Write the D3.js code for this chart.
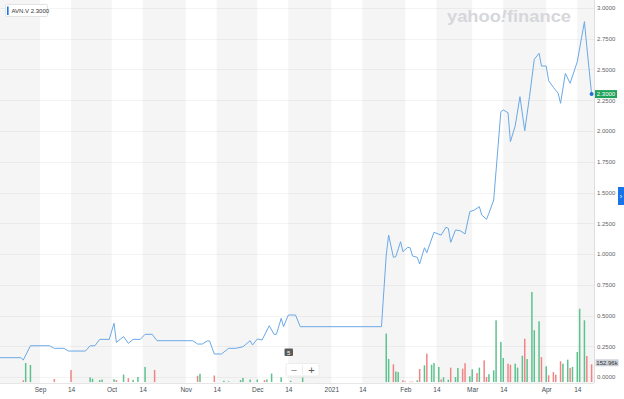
<!DOCTYPE html>
<html><head><meta charset="utf-8">
<script src="https://cdn.jsdelivr.net/npm/d3@7"></script>
<style>
html,body{margin:0;padding:0;background:#fff;}
svg{display:block;font-family:"Liberation Sans",Arial,Helvetica,sans-serif;}
</style></head><body>
<svg id="chart" width="624" height="399"></svg>
<script>
// ---------- DATA ----------
const symbol = "AVN.V";
const lastPrice = 2.30;
const lastVolume = 152.96;          // thousands
const zoomBadge = "5";

const priceSeries = [
 ["2020-08-15",0.157],["2020-08-24",0.157],["2020-08-25",0.138],["2020-08-28",0.254],
 ["2020-09-05",0.254],["2020-09-07",0.233],["2020-09-11",0.233],["2020-09-13",0.211],
 ["2020-09-20",0.211],["2020-09-22",0.254],["2020-09-24",0.254],["2020-09-26",0.306],
 ["2020-09-30",0.306],["2020-10-02",0.437],["2020-10-03",0.282],["2020-10-06",0.328],
 ["2020-10-08",0.274],["2020-10-10",0.306],["2020-10-13",0.306],["2020-10-15",0.347],
 ["2020-10-18",0.347],["2020-10-20",0.295],["2020-11-04",0.295],["2020-11-06",0.268],
 ["2020-11-08",0.268],["2020-11-10",0.293],["2020-11-11",0.293],["2020-11-13",0.187],
 ["2020-11-16",0.187],["2020-11-19",0.233],["2020-11-22",0.233],["2020-11-25",0.246],
 ["2020-11-28",0.295],["2020-11-29",0.260],["2020-12-01",0.309],["2020-12-03",0.301],
 ["2020-12-06",0.417],["2020-12-08",0.347],["2020-12-09",0.347],["2020-12-11",0.477],
 ["2020-12-12",0.409],["2020-12-14",0.504],["2020-12-17",0.504],["2020-12-19",0.409],
 ["2021-01-22",0.409],["2021-01-24",0.992],["2021-01-25",1.154],["2021-01-27",0.973],
 ["2021-01-28",0.978],["2021-01-30",1.100],["2021-01-31",1.019],["2021-02-02",1.054],
 ["2021-02-03",1.051],["2021-02-04",0.984],["2021-02-06",0.973],["2021-02-07",0.919],
 ["2021-02-09",1.051],["2021-02-10",1.011],["2021-02-13",1.176],["2021-02-16",1.154],
 ["2021-02-18",1.217],["2021-02-19",1.209],["2021-02-20",1.095],["2021-02-22",1.195],
 ["2021-02-24",1.189],["2021-02-26",1.163],["2021-02-28",1.344],["2021-03-02",1.358],
 ["2021-03-04",1.385],["2021-03-05",1.317],["2021-03-07",1.282],["2021-03-08",1.331],
 ["2021-03-10",1.439],["2021-03-13",2.157],["2021-03-14",2.171],["2021-03-16",2.149],
 ["2021-03-17",1.913],["2021-03-19",2.041],["2021-03-21",2.279],["2021-03-23",2.002],
 ["2021-03-25",2.279],["2021-03-27",2.583],["2021-03-29",2.632],["2021-03-30",2.528],
 ["2021-04-01",2.528],["2021-04-02",2.409],["2021-04-04",2.355],["2021-04-06",2.307],
 ["2021-04-07",2.225],["2021-04-09",2.469],["2021-04-11",2.388],["2021-04-14",2.563],
 ["2021-04-17",2.889],["2021-04-18",2.685],["2021-04-20",2.300]
];

// [date, volume (thousands), "u" up / "d" down]
const volumeSeries = [
 ["2020-08-25",15,"d"],["2020-08-26",164,"u"],["2020-08-28",147,"u"],["2020-09-07",26,"d"],
 ["2020-09-14",104,"d"],["2020-09-22",40,"u"],["2020-09-23",28,"u"],["2020-09-26",17,"u"],
 ["2020-09-27",22,"u"],["2020-10-02",24,"u"],["2020-10-03",17,"d"],["2020-10-06",64,"u"],
 ["2020-10-08",33,"d"],["2020-10-10",19,"u"],["2020-10-12",43,"u"],["2020-10-15",130,"u"],
 ["2020-10-19",104,"d"],["2020-11-06",54,"d"],["2020-11-07",71,"u"],["2020-11-13",56,"d"],
 ["2020-11-17",11,"u"],["2020-11-19",6,"u"],["2020-11-24",17,"u"],["2020-11-25",35,"u"],
 ["2020-11-28",22,"u"],["2020-12-01",22,"u"],["2020-12-04",16,"d"],["2020-12-05",22,"u"],
 ["2020-12-07",73,"u"],["2020-12-11",41,"u"],["2020-12-15",11,"u"],["2020-12-20",39,"u"],
 ["2021-01-24",419,"u"],["2021-01-25",199,"u"],["2021-01-27",153,"d"],["2021-01-28",91,"u"],
 ["2021-01-29",86,"u"],["2021-01-31",15,"d"],["2021-02-01",6,"d"],["2021-02-03",4,"d"],
 ["2021-02-04",4,"d"],["2021-02-06",15,"u"],["2021-02-07",112,"d"],["2021-02-09",144,"u"],
 ["2021-02-10",245,"d"],["2021-02-12",149,"u"],["2021-02-13",164,"u"],["2021-02-15",130,"u"],
 ["2021-02-16",23,"d"],["2021-02-17",41,"u"],["2021-02-19",20,"u"],["2021-02-20",124,"d"],
 ["2021-02-22",43,"u"],["2021-02-23",121,"u"],["2021-02-25",115,"d"],["2021-02-26",162,"d"],
 ["2021-02-28",49,"u"],["2021-03-01",110,"u"],["2021-03-03",78,"d"],["2021-03-04",124,"u"],
 ["2021-03-06",187,"d"],["2021-03-07",43,"d"],["2021-03-08",67,"u"],["2021-03-10",101,"u"],
 ["2021-03-11",533,"u"],["2021-03-13",346,"u"],["2021-03-14",207,"u"],["2021-03-16",158,"d"],
 ["2021-03-17",149,"d"],["2021-03-19",158,"u"],["2021-03-20",124,"u"],["2021-03-22",227,"u"],
 ["2021-03-23",374,"d"],["2021-03-24",199,"u"],["2021-03-26",778,"u"],["2021-03-27",447,"u"],
 ["2021-03-29",524,"u"],["2021-03-30",216,"d"],["2021-04-01",136,"u"],["2021-04-02",58,"d"],
 ["2021-04-04",86,"d"],["2021-04-05",63,"d"],["2021-04-07",179,"d"],["2021-04-08",158,"u"],
 ["2021-04-10",193,"u"],["2021-04-11",121,"d"],["2021-04-12",130,"u"],["2021-04-14",259,"u"],
 ["2021-04-15",633,"u"],["2021-04-17",533,"u"],["2021-04-18",225,"d"],["2021-04-20",152.96,"d"]
];

const tickDates = ["2020-09-01","2020-09-14","2020-10-01","2020-10-14","2020-11-01","2020-11-14",
 "2020-12-01","2020-12-14","2021-01-01","2021-01-14","2021-02-01","2021-02-14",
 "2021-03-01","2021-03-14","2021-04-01","2021-04-14"];
const tickLabels = ["Sep","14","Oct","14","Nov","14","Dec","14","2021","14","Feb","14","Mar","14","Apr","14"];
const priceTicks = [0,0.25,0.5,0.75,1,1.25,1.5,1.75,2,2.25,2.5,2.75,3];

// ---------- CHART ----------
const parse = d3.timeParse("%Y-%m-%d");
const svg = d3.select("#chart");
const plotR = 594, plotB = 383;

const x = d3.scaleTime().domain([parse("2020-08-15"), parse("2021-04-20")]).range([-0.6, 591.6]);
const y = d3.scaleLinear().domain([0, 3]).range([377, 8]);
const yVol = d3.scaleLinear().domain([0, 1000]).range([382, 382 - 1000 / 8.64]);

// alternating bands
const td = tickDates.map(parse);
const bands = [[x.domain()[0], td[0]]];
for (let i = 1; i < td.length; i += 2) bands.push([td[i], td[i + 1] || parse("2021-05-01")]);
svg.append("g").selectAll("rect").data(bands).join("rect")
  .attr("x", d => Math.max(0, x(d[0])))
  .attr("y", 0)
  .attr("width", d => Math.min(plotR, x(d[1])) - Math.max(0, x(d[0])))
  .attr("height", plotB)
  .attr("fill", "#f5f5f5");

// horizontal grid
svg.append("g").selectAll("line").data(priceTicks).join("line")
  .attr("x1", 0).attr("x2", plotR)
  .attr("y1", d => Math.round(y(d)) + 0.5).attr("y2", d => Math.round(y(d)) + 0.5)
  .attr("stroke", "rgba(0,0,0,0.045)");

// watermark
const wm = svg.append("text").attr("x", 447).attr("y", 21.5)
  .attr("font-size", 17).attr("font-weight", 700).attr("fill", "#d6d7db")
  .attr("textLength", 124).attr("lengthAdjust", "spacingAndGlyphs");
wm.append("tspan").text("yahoo");
wm.append("tspan").attr("font-style", "italic").text("!");
wm.append("tspan").text("finance");

// volume bars
svg.append("g").selectAll("rect").data(volumeSeries).join("rect")
  .attr("x", d => x(parse(d[0])) - 0.75)
  .attr("width", 1.5)
  .attr("y", d => yVol(d[1]))
  .attr("height", d => Math.max(0.6, yVol(0) - yVol(d[1])))
  .attr("fill", d => d[2] === "u" ? "#5ec28e" : "#f08585");

// price line
const line = d3.line().x(d => x(parse(d[0]))).y(d => y(d[1]));
svg.append("path").datum(priceSeries)
  .attr("d", line).attr("fill", "none")
  .attr("stroke", "#6aa9e6").attr("stroke-width", 1).attr("stroke-linejoin", "round");

// last point
const last = priceSeries[priceSeries.length - 1];
svg.append("circle").attr("cx", x(parse(last[0]))).attr("cy", y(last[1])).attr("r", 2).attr("fill", "#1f6fd6");

// right axis
svg.append("line").attr("x1", plotR + 0.5).attr("x2", plotR + 0.5).attr("y1", 0).attr("y2", plotB)
  .attr("stroke", "#dedede");
const yAxis = svg.append("g").attr("transform", `translate(${plotR},0)`)
  .call(d3.axisRight(y).tickValues(priceTicks).tickFormat(d3.format(".4f")).tickSize(0).tickPadding(3));
yAxis.select(".domain").remove();
yAxis.selectAll("text").attr("font-size", 6).attr("fill", "#5f6368").attr("font-family", "Liberation Sans, Arial, sans-serif");

// bottom axis
svg.append("line").attr("x1", 0).attr("x2", plotR).attr("y1", plotB + 0.5).attr("y2", plotB + 0.5)
  .attr("stroke", "#e6e6e6");
const xAxis = svg.append("g").attr("transform", `translate(0,${plotB})`)
  .call(d3.axisBottom(x).tickValues(td).tickFormat((d, i) => tickLabels[i]).tickSize(0).tickPadding(4));
xAxis.select(".domain").remove();
xAxis.selectAll("text").attr("font-size", 6.5).attr("fill", "#464e56").attr("font-family", "Liberation Sans, Arial, sans-serif");

// price label
const py = y(lastPrice);
svg.append("rect").attr("x", 595).attr("y", py - 4).attr("width", 22).attr("height", 8).attr("fill", "#1fa35b");
svg.append("text").attr("x", 606).attr("y", py + 2.1).attr("text-anchor", "middle")
  .attr("font-size", 6).attr("fill", "#fff").text(d3.format(".4f")(lastPrice));

// volume label
const vy = yVol(lastVolume) - 1.5;
svg.append("rect").attr("x", 595.5).attr("y", vy - 3.5).attr("width", 23).attr("height", 7).attr("fill", "#ccd1d9");
svg.append("text").attr("x", 607).attr("y", vy + 2.1).attr("text-anchor", "middle")
  .attr("font-size", 6).attr("fill", "#333").text(lastVolume.toFixed(2) + "k");

// right blue tab
svg.append("rect").attr("x", 618).attr("y", 187).attr("width", 6).attr("height", 18).attr("fill", "#1a73e8");
svg.append("text").attr("x", 621).attr("y", 198.5).attr("text-anchor", "middle")
  .attr("font-size", 7).attr("fill", "#fff").text("›");

// top-left legend
svg.append("rect").attr("x", 5.5).attr("y", 4.5).attr("width", 42).attr("height", 12)
  .attr("fill", "#fff").attr("stroke", "#e3e3e3").attr("rx", 1);
svg.append("rect").attr("x", 7).attr("y", 6.5).attr("width", 1.6).attr("height", 8.5).attr("fill", "#1a73e8");
svg.append("text").attr("x", 11.5).attr("y", 12.8).attr("font-size", 6).attr("fill", "#333")
  .text(symbol + " " + d3.format(".4f")(lastPrice));

// "5" badge
svg.append("rect").attr("x", 284.5).attr("y", 348.5).attr("width", 8.5).attr("height", 7.5).attr("fill", "#5a5a5a").attr("rx", 1);
svg.append("text").attr("x", 288.75).attr("y", 354.5).attr("text-anchor", "middle")
  .attr("font-size", 6).attr("fill", "#fff").text(zoomBadge);

// zoom controls
svg.append("rect").attr("x", 286).attr("y", 363.5).attr("width", 33).attr("height", 12.5)
  .attr("fill", "#fff").attr("stroke", "#ececec").attr("rx", 1.5);
svg.append("line").attr("x1", 302.5).attr("x2", 302.5).attr("y1", 365).attr("y2", 374.5).attr("stroke", "#eeeeee");
svg.append("text").attr("x", 294).attr("y", 373.5).attr("text-anchor", "middle")
  .attr("font-size", 11).attr("fill", "#8a8a8a").text("−");
svg.append("text").attr("x", 311.5).attr("y", 373.8).attr("text-anchor", "middle")
  .attr("font-size", 11).attr("fill", "#555").text("+");
</script>
</body></html>
